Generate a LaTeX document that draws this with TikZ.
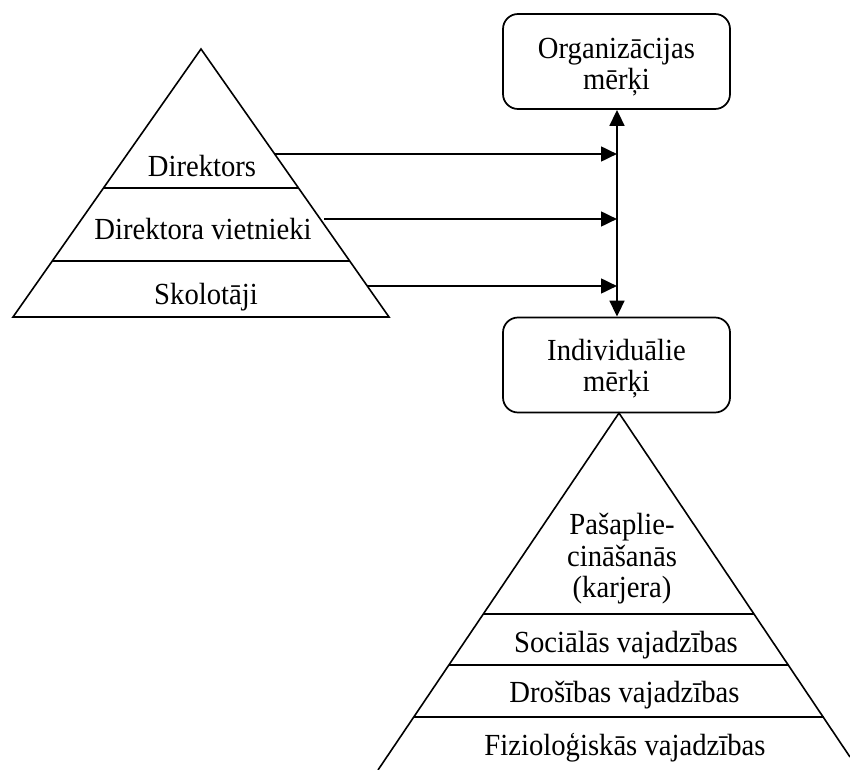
\documentclass[tikz,border=0pt]{standalone}
\usepackage{fontspec}
\usepackage{graphicx}
\setmainfont{Liberation Serif}
\usetikzlibrary{arrows.meta}
\newcommand{\vstr}[1]{\scalebox{1}[1.07]{#1}}
\newcommand{\mlines}[1]{\vstr{\begin{tabular}{@{}c@{}}#1\end{tabular}}}
\tikzset{
  txt/.style={font=\fontsize{21.5}{22}\selectfont, inner sep=0pt},
  goalbox/.style={draw, line width=1.3pt, rounded corners=15*0.75pt, minimum width=227*0.75pt, minimum height=95*0.75pt, inner sep=0pt},
  edge/.style={line width=1.2pt},
  conn/.style={line width=2pt, -{Triangle[length=12pt,width=11pt]}},
  dconn/.style={line width=2pt, {Triangle[length=12pt,width=11pt]}-{Triangle[length=12pt,width=11pt]}}
}
\begin{document}
\begin{tikzpicture}[x=0.75pt,y=-0.75pt]
\useasboundingbox (0,0) rectangle (850,770);
% left pyramid
\coordinate (LA) at (201,49);
\coordinate (LL) at (13,317);
\coordinate (LR) at (389,317);
\draw[edge] (LA) -- (LL) -- (LR) -- cycle;
\draw[edge] (104,188) -- (298,188);
\draw[edge] (52,261) -- (350,261);
\node[txt, anchor=base] (dir) at (202,177) {\vstr{Direktors}};
\node[txt, anchor=base] (viet) at (203,239) {\vstr{Direktora vietnieki}};
\node[txt, anchor=base] (skol) at (206,304) {\vstr{Skolotāji}};
% goal boxes
\node[goalbox] (org) at (616.5,61.5) {};
\node[txt] (orgt) at (616.5,67.5) {\mlines{Organizācijas\\mērķi}};
\node[goalbox] (ind) at (616.5,365) {};
\node[txt] (indt) at (616.5,369.5) {\mlines{Individuālie\\mērķi}};
% connectors
\coordinate (s1) at (275,154);
\coordinate (s2) at (324,219);
\coordinate (s3) at (367,286);
\coordinate (e1) at (617,154);
\coordinate (e2) at (617,219);
\coordinate (e3) at (617,286);
\draw[conn] (s1) -- (e1);
\draw[conn] (s2) -- (e2);
\draw[conn] (s3) -- (e3);
\draw[dconn] (org.south -| e1) -- (ind.north -| e1);
% lower pyramid
\coordinate (RA) at (619,413);
\coordinate (RL) at (378,770);
\coordinate (RR) at (850,757);
\draw[edge] (RL) -- (RA) -- (RR);
\draw[edge] (484,614) -- (754,614);
\draw[edge] (449,665) -- (789,665);
\draw[edge] (414,717) -- (824,717);
\node[txt] (pasa) at (622,560) {\mlines{Pašaplie-\\cināšanās\\(karjera)}};
\node[txt, anchor=base] (soc) at (626,652) {\vstr{Sociālās vajadzības}};
\node[txt, anchor=base] (dros) at (624.5,702) {\vstr{Drošības vajadzības}};
\node[txt, anchor=base] (fiz) at (625,755) {\vstr{Fizioloģiskās vajadzības}};
\end{tikzpicture}
\end{document}
